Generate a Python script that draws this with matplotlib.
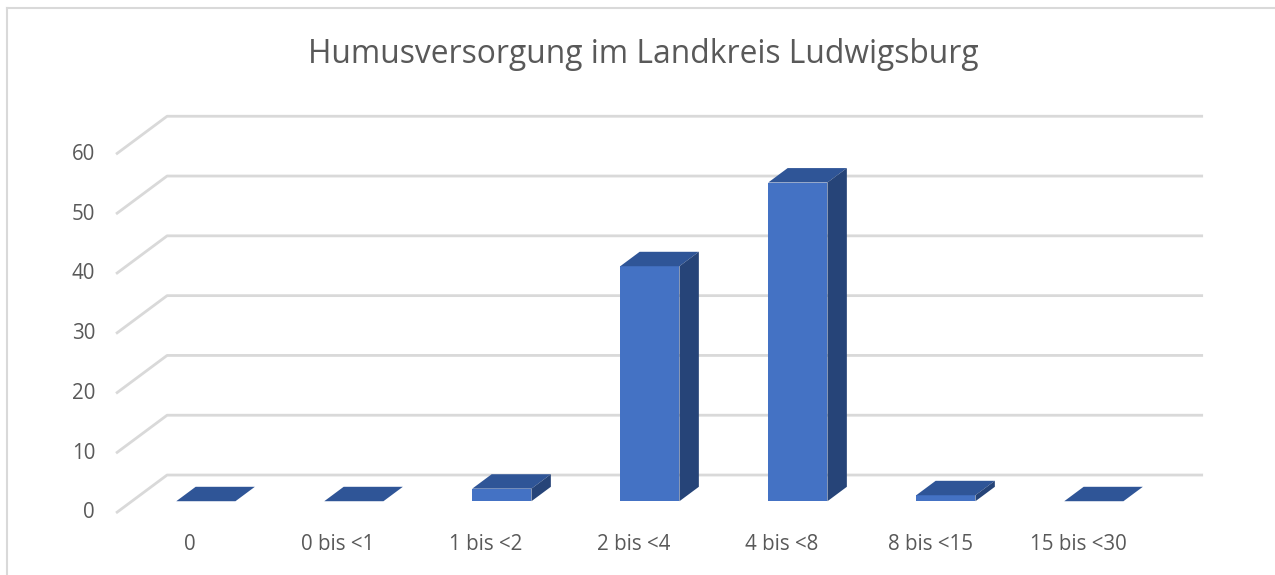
import matplotlib.pyplot as plt
from matplotlib.patches import Polygon
from matplotlib.lines import Line2D
import numpy as np

plt.rcParams["font.family"] = ["Open Sans", "DejaVu Sans"]

categories = ["0", "0 bis <1", "1 bis <2", "2 bis <4", "4 bis <8", "8 bis <15", "15 bis <30"]
values = [0, 0, 2.1, 39.3, 53.3, 1.0, 0]
yticks = [0, 10, 20, 30, 40, 50, 60]
title = "Humusversorgung im Landkreis Ludwigsburg"

front_col = "#4472C4"
top_col = "#2F5597"
side_col = "#264478"
grid_col = "#D9D9D9"
text_col = "#595959"

# oblique "3D" look: full depth of floor in data units
depth_x = 0.345
depth_y = 6.35
d_front, d_back = 0.31, 0.69   # bar position inside the depth
bar_w = 0.40

fig = plt.figure(figsize=(12.75, 5.75), dpi=100)
ax = fig.add_axes([0, 0, 1, 1])
ax.set_xlim(-1.284, 7.331)
ax.set_ylim(-10.37, 85.79)
ax.set_axis_off()

x = np.arange(len(categories))
x_left, x_right = -0.5, len(categories) - 0.5

# side wall diagonals + back wall gridlines
for v in yticks:
    ax.plot([x_left, x_left + depth_x, x_right + depth_x], [v, v + depth_y, v + depth_y],
            color=grid_col, lw=2, zorder=1, solid_capstyle="butt")
    ax.text(x_left - 0.142, v, str(v), ha="right", va="center", fontsize=14.8, color=text_col)

# bars
dx1, dy1 = d_front * depth_x, d_front * depth_y
ddx, ddy = (d_back - d_front) * depth_x, (d_back - d_front) * depth_y
ax.bar(x + dx1, values, width=bar_w, bottom=dy1, color=front_col, lw=0, zorder=3)
for xi, v in zip(x, values):
    xl = xi + dx1 - bar_w / 2
    xr = xi + dx1 + bar_w / 2
    bot, top = dy1, dy1 + v
    ax.add_patch(Polygon([(xl, top), (xr, top), (xr + ddx, top + ddy), (xl + ddx, top + ddy)],
                         closed=True, color=top_col, lw=0, zorder=4))
    if v > 0:
        ax.add_patch(Polygon([(xr, bot), (xr, top), (xr + ddx, top + ddy), (xr + ddx, bot + ddy)],
                             closed=True, color=side_col, lw=0, zorder=4))

for xi, lab in zip(x, categories):
    ax.text(xi, -5.3, lab, ha="center", va="center", fontsize=14.8, color=text_col)

ax.text(3.06, 76.6, title, ha="center", va="center", fontsize=22.9, color=text_col)

# chart frame (left and top edges visible)
fig.add_artist(Line2D([7 / 1275, 7 / 1275], [0, 1 - 8 / 575], color=grid_col, lw=1.5))
fig.add_artist(Line2D([7 / 1275, 1], [1 - 8 / 575, 1 - 8 / 575], color=grid_col, lw=1.5))

fig.savefig("out.png", dpi=100)
